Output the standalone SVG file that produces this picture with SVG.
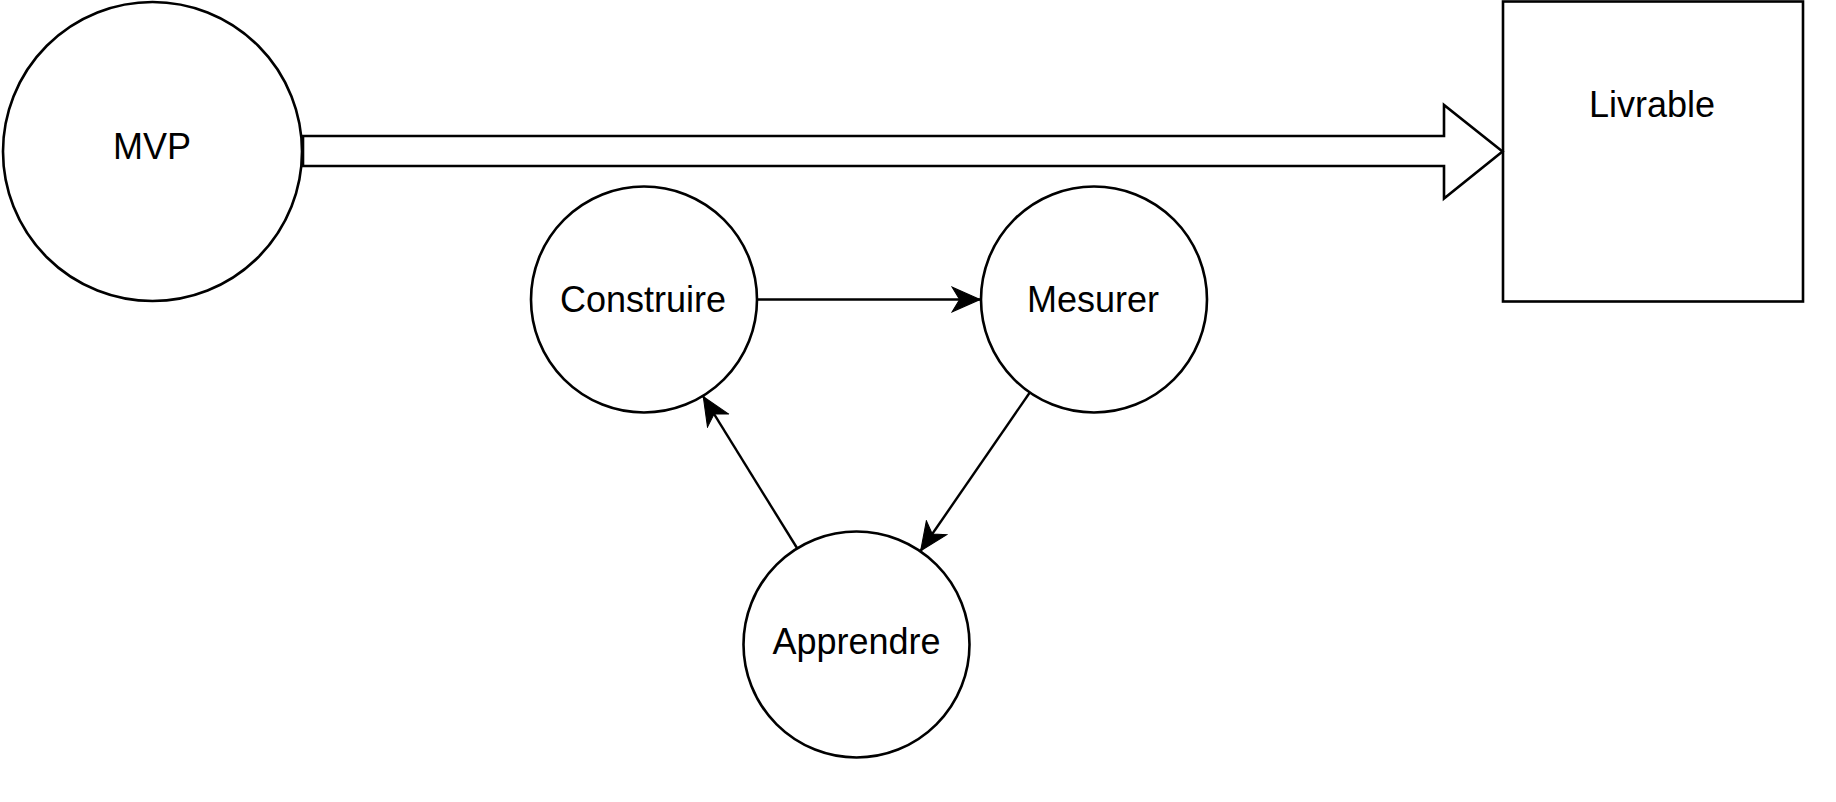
<svg xmlns="http://www.w3.org/2000/svg" width="1836" height="802" viewBox="0 0 1836 802">
  <style>
    .shape { fill: #ffffff; stroke: #000000; stroke-width: 2.6; }
    .label { font-family: "Liberation Sans", Arial, Helvetica, sans-serif; font-size: 36px; fill: #000000; text-anchor: middle; }
    .edge { fill: none; stroke: #000000; stroke-width: 2.4; }
  </style>
  <defs>
    <marker id="arrow" markerUnits="userSpaceOnUse" markerWidth="30" markerHeight="30" viewBox="-27 -13 28 26" refX="0" refY="0" orient="auto">
      <path d="M0,0 L-26,-11.5 L-19,0 L-26,11.5 Z" fill="#000000" stroke="#000000" stroke-width="1" stroke-linejoin="miter"/>
    </marker>
  </defs>
  <rect width="1836" height="802" fill="#ffffff"/>

  <g id="node-mvp">
    <circle class="shape" cx="152.5" cy="151.5" r="149.5"/>
    <text class="label" x="152" y="159">MVP</text>
  </g>

  <g id="node-livrable">
    <rect class="shape" x="1503" y="1.5" width="300" height="300"/>
    <text class="label" x="1652" y="116.5">Livrable</text>
  </g>

  <g id="node-construire">
    <circle class="shape" cx="644" cy="299.5" r="113"/>
    <text class="label" x="643" y="311.5">Construire</text>
  </g>

  <g id="node-mesurer">
    <circle class="shape" cx="1094" cy="299.5" r="113"/>
    <text class="label" x="1093" y="311.5">Mesurer</text>
  </g>

  <g id="node-apprendre">
    <circle class="shape" cx="856.5" cy="644.5" r="113"/>
    <text class="label" x="856.5" y="653.5">Apprendre</text>
  </g>

  <g id="connectors">
    <path id="edge-mvp-livrable" class="shape" stroke-linejoin="miter" d="M303,136 L1444,136 L1444,105 L1502.5,151.5 L1444,198.5 L1444,166 L303,166 Z"/>
    <path id="edge-construire-mesurer" class="edge" d="M757,299.5 L980,299.5" marker-end="url(#arrow)"/>
    <path id="edge-mesurer-apprendre" class="edge" d="M1029.8,392.5 L920.7,550.7" marker-end="url(#arrow)"/>
    <path id="edge-apprendre-construire" class="edge" d="M797,548 L703.3,396.7" marker-end="url(#arrow)"/>
  </g>
</svg>
